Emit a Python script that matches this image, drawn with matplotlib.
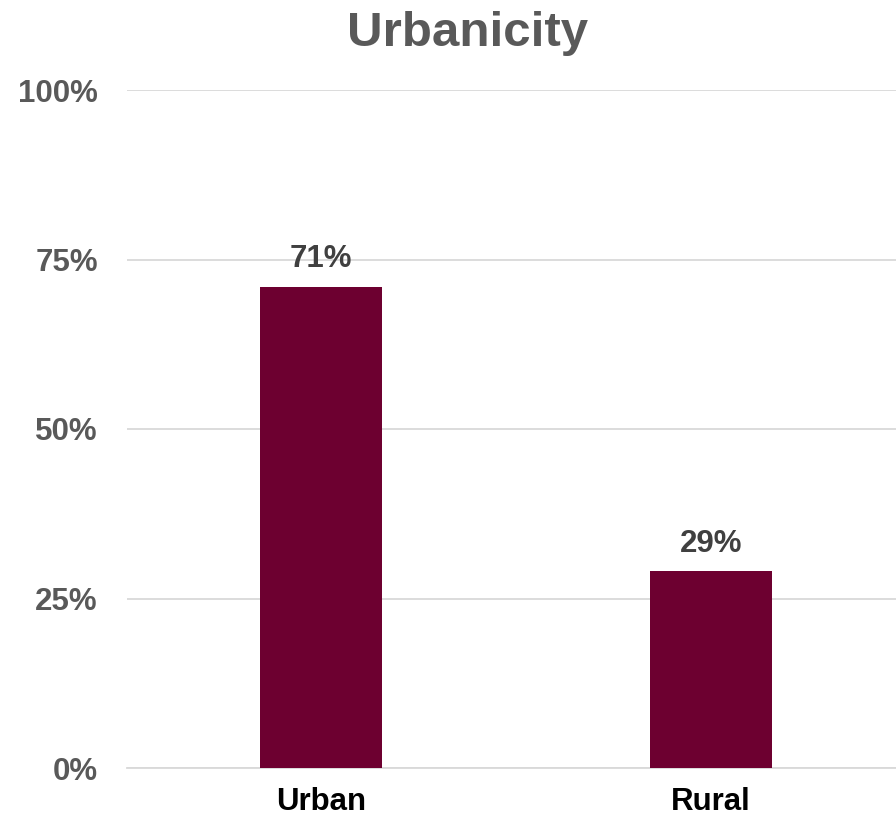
import matplotlib
matplotlib.use("Agg")
import matplotlib.pyplot as plt
from matplotlib.ticker import FuncFormatter

categories = ["Urban", "Rural"]
values = [71, 29]
yticks = [0, 25, 50, 75, 100]

plt.rcParams['font.family'] = ['Liberation Sans', 'DejaVu Sans']

fig = plt.figure(figsize=(8.96, 8.23), dpi=100)
W, H = 896, 823
left, right = 127, 896
top, bottom = 90, 768
ax = fig.add_axes([left / W, 1 - bottom / H, (right - left) / W, (bottom - top) / H])

x = list(range(len(categories)))
bars = ax.bar(x, values, width=0.313, color="#6D0030", zorder=3)
for xi, v in zip(x, values):
    ax.annotate(f"{v}%", (xi, v), xytext=(0, 9), textcoords="offset points",
                ha="center", va="bottom", fontsize=22.5, fontweight="bold", color="#404040")

ax.set_xlim(-0.497, 1.474)
ax.set_ylim(0, 100)
ax.set_yticks(yticks)
ax.yaxis.set_major_formatter(FuncFormatter(lambda v, p: f"{int(v)}%"))
ax.set_xticks(x)
ax.set_xticklabels(categories)
ax.grid(axis="y", color="#d9d9d9", linewidth=1.3, zorder=0)
for s in ["top", "right", "left"]:
    ax.spines[s].set_visible(False)
ax.spines["bottom"].set_color("#d9d9d9")
ax.spines["bottom"].set_linewidth(1.3)
ax.tick_params(axis="y", length=0, pad=21, labelsize=22.5, labelcolor="#595959")
ax.tick_params(axis="x", length=0, pad=14, labelsize=22.5, labelcolor="#000000")
for lab in ax.get_yticklabels() + ax.get_xticklabels():
    lab.set_fontweight("bold")

fig.text(468 / W, 1 - 33 / H, "Urbanicity", ha="center", va="center",
         fontsize=35.5, fontweight="bold", color="#595959")

fig.savefig("out.png", dpi=100)
